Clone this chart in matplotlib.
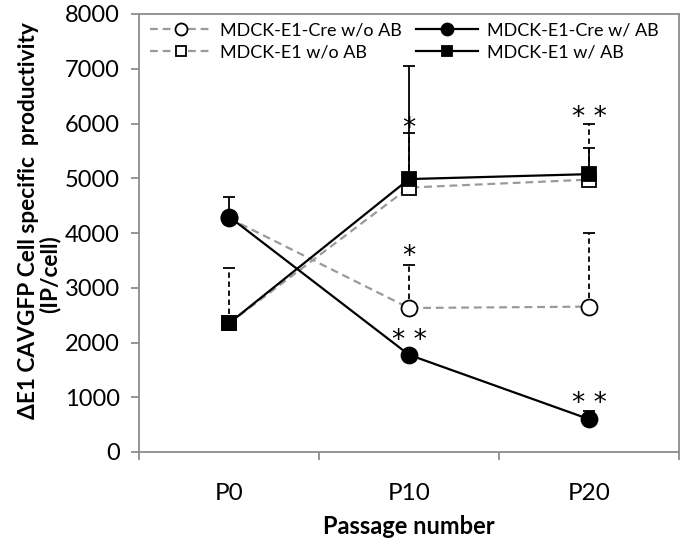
import matplotlib
matplotlib.use("Agg")
import matplotlib.pyplot as plt
import numpy as np

plt.rcParams['font.family'] = ['Lato', 'DejaVu Sans']

categories = ["P0", "P10", "P20"]

cre_wo_ab = [4270, 2630, 2655]
cre_wo_ab_err = [0, 785, 1340]
cre_w_ab = [4300, 1775, 600]
cre_w_ab_err = [365, 0, 140]
e1_wo_ab = [2350, 4830, 4975]
e1_wo_ab_err = [1010, 990, 1025]
e1_w_ab = [2350, 4985, 5075]
e1_w_ab_err = [0, 2070, 470]

star_x = [1, 1, 1, 2, 2]
star_y = [5900, 3560, 2030, 6100, 880]
star_text = ["*", "*", "* *", "* *", "* *"]

ylabel_lines = ["ΔE1 CAVGFP Cell specific  productivity", "(IP/cell)"]

fig = plt.figure(figsize=(6.86, 5.44), dpi=100)
ax = fig.add_axes([139/686, 1-452/544, (679-139)/686, (452-14)/544])

x = np.arange(len(categories))
gray = "#9a9a9a"
spine_gray = "#8c8c8c"

def draw(vals, errs, ls, color, marker, mfc, label, z, ebls):
    ax.plot(x, vals, ls=ls, color=color, lw=1.6, zorder=z, label=label,
            marker=marker, markersize=11.5 if marker == 'o' else 10.5,
            markerfacecolor=mfc, markeredgecolor='black', markeredgewidth=1.3)
    e = ax.errorbar(x, vals, yerr=[np.zeros(len(errs)), errs], fmt='none',
                    ecolor='black', elinewidth=1.3, capsize=4, capthick=1.3, zorder=z - 0.5)
    for lc in e[2]:
        lc.set_linestyle(ebls)

draw(cre_wo_ab, cre_wo_ab_err, (0, (3.5, 2.2)), gray, 'o', 'white', "MDCK-E1-Cre w/o AB", 3, (0, (3, 2)))
draw(e1_wo_ab, e1_wo_ab_err, (0, (3.5, 2.2)), gray, 's', 'white', "MDCK-E1 w/o AB", 3, (0, (3, 2)))
draw(cre_w_ab, cre_w_ab_err, '-', 'black', 'o', 'black', "MDCK-E1-Cre w/ AB", 5, '-')
draw(e1_w_ab, e1_w_ab_err, '-', 'black', 's', 'black', "MDCK-E1 w/ AB", 5, '-')

for sx, sy, st in zip(star_x, star_y, star_text):
    ax.text(sx, sy, st, ha='center', va='center', fontsize=19, family='DejaVu Sans', zorder=6)

ax.set_xlim(-0.5, 2.5)
ax.set_ylim(0, 8000)
ax.set_yticks(np.arange(0, 8001, 1000))
ax.set_xticks([-0.5, 0.5, 1.5, 2.5])
ax.set_xticklabels([])
ax.set_xticks(x, minor=True)
ax.set_xticklabels(categories, minor=True)
ax.tick_params(axis='x', which='minor', length=0, pad=22, labelsize=17.5)
ax.tick_params(axis='x', which='major', length=6, width=1.3, color=spine_gray, direction='out')
ax.tick_params(axis='y', length=6, width=1.3, color=spine_gray, direction='out', labelsize=17, pad=8)
for s in ax.spines.values():
    s.set_color(spine_gray)
    s.set_linewidth(1.3)

ax.set_xlabel("Passage number", fontsize=17, fontweight='bold', labelpad=8)
fig.text(29/686, 1 - 221/544, ylabel_lines[0], rotation=90, ha='center', va='center',
         fontsize=16.3, fontweight='bold')
fig.text(50/686, 1 - 274/544, ylabel_lines[1], rotation=90, ha='center', va='center',
         fontsize=16.3, fontweight='bold')

h, l = ax.get_legend_handles_labels()
leg = ax.legend(h, l, ncol=2, loc='upper left', markerscale=0.75,
                bbox_to_anchor=(0.0, 1.005), frameon=False, fontsize=13, handlelength=3.4,
                columnspacing=0.8, handletextpad=0.5, labelspacing=0.3, borderaxespad=0.2)

fig.savefig("out.png", dpi=100)
